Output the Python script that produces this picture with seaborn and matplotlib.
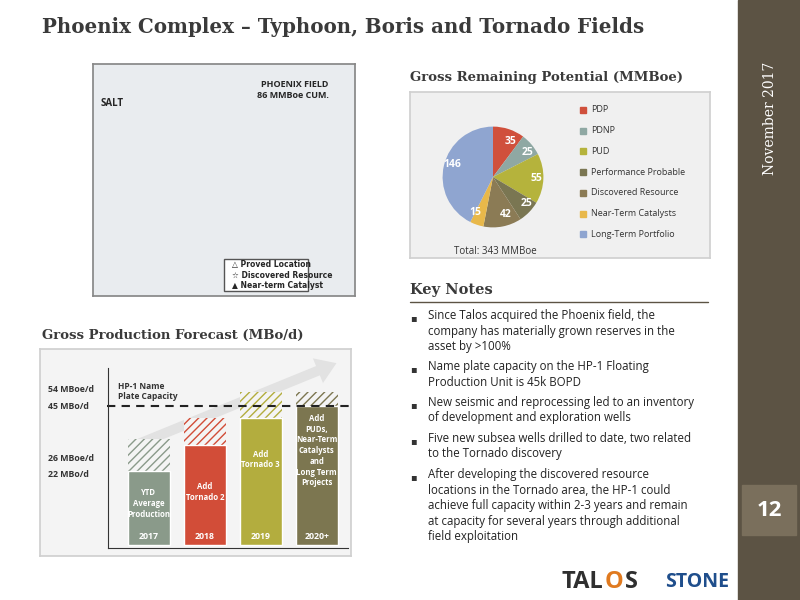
import matplotlib
matplotlib.use("Agg")
import matplotlib.pyplot as plt
import seaborn as sns
import pandas as pd
from matplotlib.patches import Rectangle

sns.set_theme(style="white")
plt.rcParams['font.family'] = ['Open Sans', 'DejaVu Sans']

# ---- data ----
pie_labels = ["PDP", "PDNP", "PUD", "Performance Probable", "Discovered Resource",
              "Near-Term Catalysts", "Long-Term Portfolio"]
pie_values = [35, 25, 55, 25, 42, 15, 146]
pie_colors = ["#d0503c", "#8fa8a3", "#b5b33c", "#7a7652", "#8b7b55", "#e8b84a", "#8fa5d0"]

years = ["2017", "2018", "2019", "2020+"]
base_vals = [25, 34, 43, 47]
upside_vals = [36, 43, 52, 52]
bar_labels = ["YTD\nAverage\nProduction", "Add\nTornado 2", "Add\nTornado 3",
              "Add\nPUDs,\nNear-Term\nCatalysts\nand\nLong Term\nProjects"]
bar_colors = ["#8a9a8a", "#d24d38", "#b3ad3e", "#7c7650"]
capacity = 47
ytick_text = ["54 MBoe/d", "45 MBo/d", "26 MBoe/d", "22 MBo/d"]
ytick_pos = [52.7, 47, 29.3, 24]

notes = [
    "Since Talos acquired the Phoenix field, the\ncompany has materially grown reserves in the\nasset by >100%",
    "Name plate capacity on the HP-1 Floating\nProduction Unit is 45k BOPD",
    "New seismic and reprocessing led to an inventory\nof development and exploration wells",
    "Five new subsea wells drilled to date, two related\nto the Tornado discovery",
    "After developing the discovered resource\nlocations in the Tornado area, the HP-1 could\nachieve full capacity within 2-3 years and remain\nat capacity for several years through additional\nfield exploitation",
]

W, H = 800, 600
fig = plt.figure(figsize=(8, 6), dpi=100)
fig.patch.set_facecolor("white")

def fx(x): return x / W
def fy(y): return 1 - y / H

serif = ['DejaVu Serif']
dark = "#3a3a3a"

# Title
fig.text(fx(42), fy(27), "Phoenix Complex – Typhoon, Boris and Tornado Fields",
         family=serif, fontsize=14.3, fontweight="bold", color=dark, va="center")

# Sidebar
fig.patches.append(Rectangle((fx(738), 0), fx(62), 1, transform=fig.transFigure,
                             color="#5c5344", zorder=0))
fig.text(fx(770), fy(62), "November 2017", rotation=90, family=serif, fontsize=10,
         color="white", ha="center", va="top")
fig.patches.append(Rectangle((fx(742), fy(535)), fx(54), 50 / H, transform=fig.transFigure,
                             color="#7a6f5c", zorder=1))
fig.text(fx(769), fy(510), "12", fontsize=16, fontweight="bold", color="white",
         ha="center", va="center")

# Map placeholder
axm = fig.add_axes([fx(93), fy(296), fx(262), 232 / H])
axm.set_facecolor("#e9ecef")
axm.set_xticks([]); axm.set_yticks([])
for s in axm.spines.values():
    s.set_color("#888")
axm.text(0.9, 0.93, "PHOENIX FIELD\n86 MMBoe CUM.", transform=axm.transAxes, fontsize=6.5,
         fontweight="bold", ha="right", va="top")
axm.text(0.03, 0.82, "SALT", transform=axm.transAxes, fontsize=7, fontweight="bold")
axm.add_patch(Rectangle((0.5, 0.02), 0.32, 0.14, transform=axm.transAxes, fc="white", ec="#555"))
axm.text(0.53, 0.09, "△ Proved Location\n☆ Discovered Resource\n▲ Near-term Catalyst",
         transform=axm.transAxes, fontsize=5.5, fontweight="bold", va="center",
         family=['DejaVu Sans'])

# Pie
fig.text(fx(410), fy(78), "Gross Remaining Potential (MMBoe)", family=serif, fontsize=9.5,
         fontweight="bold", color=dark, va="center")
bg = fig.add_axes([fx(410), fy(258), fx(300), 166 / H])
bg.set_facecolor("#f0f0f0"); bg.set_xticks([]); bg.set_yticks([])
for s in bg.spines.values():
    s.set_color("#d0d0d0")
axp = fig.add_axes([fx(430), fy(240), fx(126), 126 / H])
wedges, texts = axp.pie(pie_values, colors=pie_colors, startangle=90, counterclock=False,
                        labels=[str(v) for v in pie_values], labeldistance=0.75,
                        textprops=dict(color="white", fontsize=7.5, fontweight="bold"),
                        wedgeprops=dict(linewidth=0))
x, y = texts[-1].get_position()
texts[-1].set_position((x * 0.85, y * 0.85 + 0.1))
axp.set_aspect("equal")
for i, lab in enumerate(pie_labels):
    y = 110 + i * 20.7
    fig.patches.append(Rectangle((fx(580), fy(y + 3)), 6 / W, 6 / H,
                                 transform=fig.transFigure, color=pie_colors[i]))
    fig.text(fx(591), fy(y), lab, fontsize=6.5, va="center", color="#333")
fig.text(fx(495), fy(251), "Total: 343 MMBoe", fontsize=7, ha="center", va="center", color="#333")

# Key notes
fig.text(fx(410), fy(290), "Key Notes", family=serif, fontsize=10.5, fontweight="bold",
         color=dark, va="center")
fig.lines.append(plt.Line2D([fx(410), fx(708)], [fy(302), fy(302)], transform=fig.transFigure,
                            color="#5c5344", lw=1))
ys = [318, 369, 405, 441, 477]
for y, t in zip(ys, notes):
    fig.text(fx(410), fy(y), "▪", fontsize=7, va="center", color="#333", family=['DejaVu Sans'])
    fig.text(fx(428), fy(y - 9), t, fontsize=8.3, va="top", color="#222", linespacing=1.25)

# Bar chart
fig.text(fx(42), fy(335), "Gross Production Forecast (MBo/d)", family=serif, fontsize=9.5,
         fontweight="bold", color=dark, va="center")
bg2 = fig.add_axes([fx(40), fy(556), fx(311), 207 / H])
bg2.set_facecolor("#f4f4f4"); bg2.set_xticks([]); bg2.set_yticks([])
for s in bg2.spines.values():
    s.set_color("#d0d0d0")
axb = fig.add_axes([fx(108), fy(548), fx(240), 180 / H])
axb.patch.set_alpha(0)
df = pd.DataFrame({"year": years, "base": base_vals, "up": upside_vals})
sns.barplot(data=df, x="year", y="up", ax=axb, color="white", width=0.75, saturation=1)
for p, c in zip(axb.patches, bar_colors):
    p.set_facecolor("#f4f4f4"); p.set_hatch("////"); p.set_edgecolor(c); p.set_linewidth(0)
sns.barplot(data=df, x="year", y="base", hue="year", palette=bar_colors, ax=axb, width=0.75,
            legend=False, saturation=1)
label_y = [14, 18, 29, 32]
for i, (y, lab) in enumerate(zip(years, bar_labels)):
    axb.text(i, 3, y, color="white", fontsize=6.3, ha="center", va="center", fontweight="bold")
    axb.text(i, label_y[i], lab, color="white", fontsize=5.6, ha="center", va="center",
             linespacing=1.25, fontweight="bold")
axb.plot([-0.75, 3.6], [capacity, capacity], ls=(0, (4, 3)), color="#222", lw=1.5, clip_on=False)
axb.text(-0.55, 52, "HP-1 Name\nPlate Capacity", fontsize=6, fontweight="bold",
         color="#333", va="center")
for t, p in zip(ytick_text, ytick_pos):
    axb.text(-1.8, p, t, fontsize=6.3, fontweight="bold", color="#333", va="center")
axb.annotate("", xy=(3.4, 62), xytext=(-0.35, 33), arrowprops=dict(arrowstyle="simple,head_width=1.6,head_length=1.2,tail_width=0.6",
             color="#e2e2e2", lw=0), annotation_clip=False, zorder=0)
axb.set_xlim(-0.73, 3.56)
axb.set_xticks([]); axb.set_yticks([]); axb.set_xlabel(""); axb.set_ylabel("")
for s in ["top", "right"]:
    axb.spines[s].set_visible(False)
for s in ["left", "bottom"]:
    axb.spines[s].set_color("#333"); axb.spines[s].set_linewidth(0.8)
axb.set_ylim(-1, 60)

# Logos
fig.text(fx(561), fy(582), "TAL", fontsize=17, fontweight="bold", color="#2f2f2f", va="center")
fig.text(fx(605), fy(582), "O", fontsize=17, fontweight="bold", color="#e07a1f", va="center")
fig.text(fx(625), fy(582), "S", fontsize=17, fontweight="bold", color="#2f2f2f", va="center")
fig.text(fx(665), fy(582), "STONE", fontsize=14, fontweight="bold", color="#1f4e8c", va="center")

fig.savefig("out.png", dpi=100)
